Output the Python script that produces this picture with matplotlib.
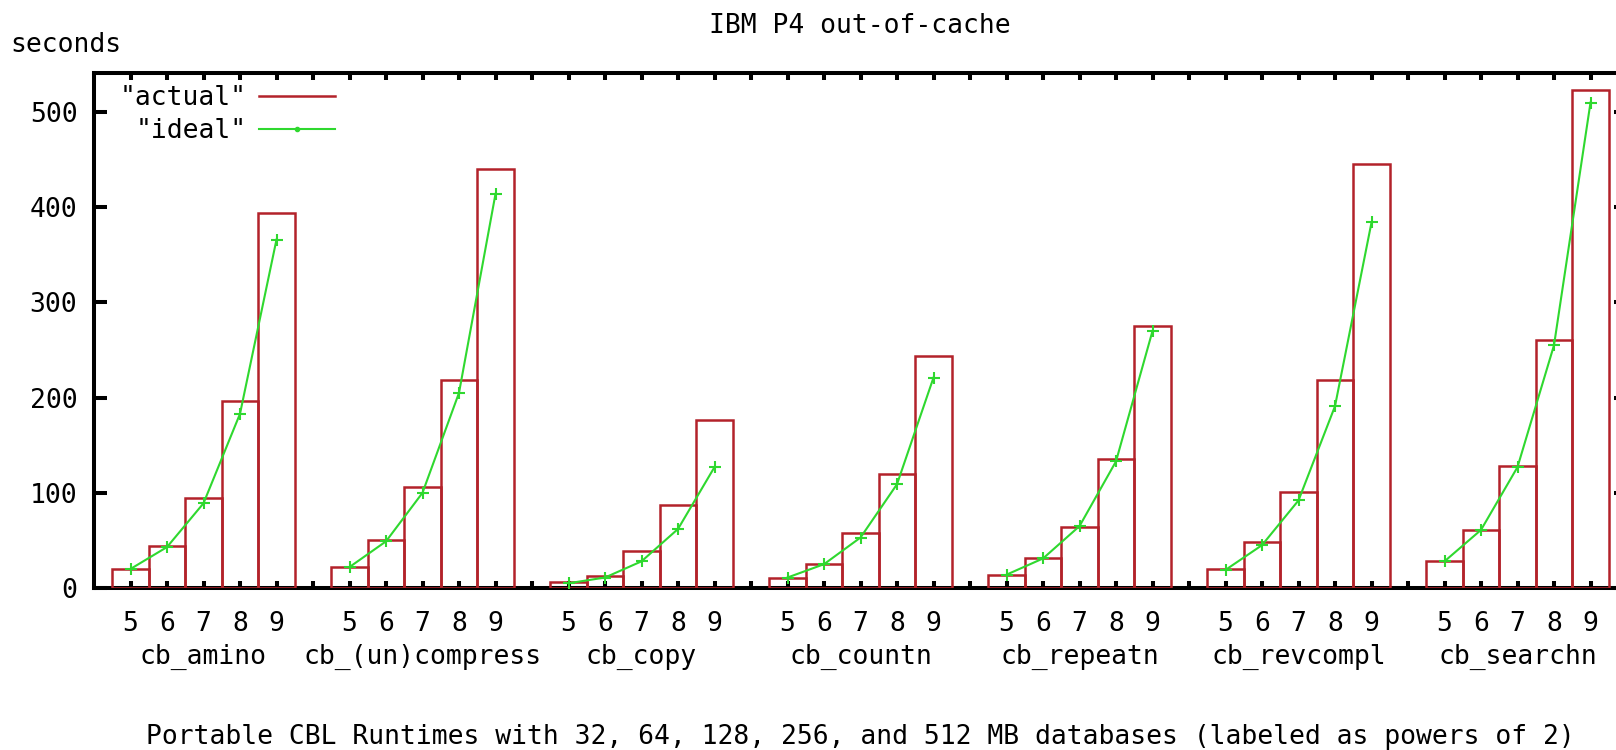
import matplotlib
matplotlib.use("Agg")
import matplotlib.pyplot as plt
from matplotlib.lines import Line2D

# benchmark programs, database sizes labeled as powers of 2
programs = ["cb_amino", "cb_(un)compress", "cb_copy", "cb_countn",
            "cb_repeatn", "cb_revcompl", "cb_searchn"]
sizes = [5, 6, 7, 8, 9]

# measured runtimes in seconds, one row per program
actual = [
    [20, 44, 95, 196, 394],
    [22, 50, 106, 218, 440],
    [6, 13, 39, 87, 177],
    [11, 25, 58, 120, 244],
    [14, 31, 64, 135, 275],
    [20, 48, 101, 218, 445],
    [28, 61, 128, 260, 523],
]
# ideal (linear scaling) runtimes
ideal = [
    [20, 43, 89, 183, 366],
    [22, 49, 100, 205, 414],
    [5, 11, 28, 62, 127],
    [11, 25, 53, 109, 221],
    [14, 31, 65, 133, 270],
    [19, 45, 92, 191, 384],
    [28, 61, 127, 255, 510],
]

red = "#b3222a"
green = "#2fd82f"
fs = 19

plt.rcParams["font.family"] = ["DejaVu Sans Mono"]
plt.rcParams["font.size"] = fs

fig = plt.figure(figsize=(16.16, 7.5), dpi=100)
ax = fig.add_axes([94 / 1616, 162 / 750, 1533 / 1616, 515 / 750])

step = len(sizes) + 1
ticks = []
labels = []
centers = []
for g, name in enumerate(programs):
    xs = [g * step + i + 1 for i in range(len(sizes))]
    ax.bar(xs, actual[g], width=1.0, fill=False, edgecolor=red,
           linewidth=1.8, zorder=3)
    ax.plot(xs, ideal[g], color=green, lw=1.5, marker="+", ms=9,
            mew=1.5, zorder=4)
    ticks += xs
    labels += [str(s) for s in sizes]
    centers.append(xs[len(sizes) // 2])
    if g < len(programs) - 1:
        ticks.append(xs[-1] + 1)
        labels.append("")

ax.set_xlim(0, len(programs) * step)
ax.set_ylim(0, 541)
ax.set_xticks(ticks)
ax.set_xticklabels(labels)
# program names as a second row of labels under the middle size
ax.xaxis.remove_overlapping_locs = False
ax.set_xticks(centers, minor=True)
ax.set_xticklabels(programs, minor=True)
ax.set_yticks([0, 100, 200, 300, 400, 500])

for sp in ax.spines.values():
    sp.set_linewidth(2.9)
ax.tick_params(axis="x", which="major", direction="in", top=True,
               length=5, width=2.9, pad=16.5)
ax.tick_params(axis="x", which="minor", top=False, length=0, pad=40.5)
ax.tick_params(axis="y", direction="in", right=True, length=9.5, width=2.9, pad=12)

handles = [Line2D([], [], color=red, lw=1.8),
           Line2D([], [], color=green, lw=1.5, marker=".", ms=6)]
ax.legend(handles, ['"actual"', '"ideal"'], loc="upper left",
          bbox_to_anchor=(0.017, 0.977), frameon=False, markerfirst=False,
          handlelength=2.9, handletextpad=0.45, labelspacing=0.27,
          borderpad=0, borderaxespad=0, fontsize=fs)

fig.text(860 / 1616, 1 - 33 / 750, "IBM P4 out-of-cache", ha="center", va="baseline")
fig.text(10 / 1616, 1 - 52 / 750, "seconds", ha="left", va="baseline")
fig.text(860 / 1616, 6 / 750,
         "Portable CBL Runtimes with 32, 64, 128, 256, and 512 MB databases (labeled as powers of 2)",
         ha="center", va="baseline")

fig.savefig("out.png", dpi=100)
